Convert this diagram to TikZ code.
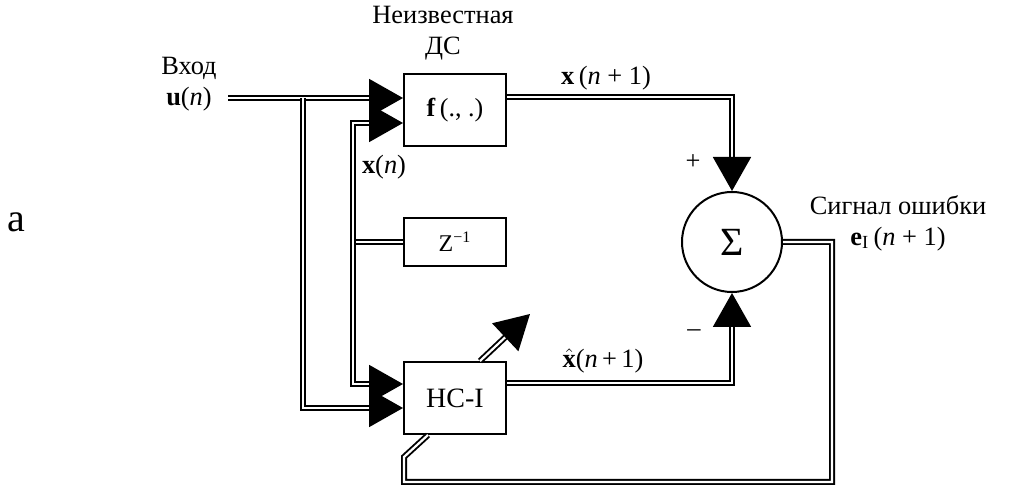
\documentclass[tikz,border=0pt]{standalone}
\usepackage{amsmath}
\usepackage{fontspec}
\setmainfont{Liberation Serif}
\usepackage{tikz}
\usetikzlibrary{arrows.meta,calc}
\tikzset{
  % block with thin frame
  blk/.style={
    rectangle, draw, line width=1pt,
    minimum width=51pt, minimum height=#1,
    inner sep=0pt, align=center
  },
  % double signal line
  dbl/.style={
    double, double distance=1.1pt, line width=0.95pt
  },
  % large filled arrow head
  arr/.style={
    -{Triangle[length=17pt,width=19pt]}
  },
  % text label
  lbl/.style={font=\fontsize{13.2}{15.5}\selectfont, align=center, inner sep=0pt}
}

\begin{document}
\begin{tikzpicture}[x=0.5pt,y=-0.5pt]
  \useasboundingbox (0,0) rectangle (1014,486);

  \node[blk=36pt, font=\fontsize{13}{15}\selectfont] (fbox)  at (455,110) {\textbf{f}\,(., .)};
  \node[blk=24pt, font=\fontsize{12}{14}\selectfont] (zbox)  at (455,242) {Z\textsuperscript{−1}};
  \node[blk=36pt, font=\fontsize{14}{16}\selectfont] (nnbox) at (455,398) {НС-I};
  \node[circle, draw, line width=1pt, minimum size=50pt, inner sep=0pt,
        font=\fontsize{20}{22}\selectfont] (sum) at (732,242) {Σ};

  \coordinate (in)   at (228,98);
  \coordinate (bus)  at (353,242);
  \coordinate (err)  at (832,242);
  \coordinate (ret)  at (404,482);

  % inputs of the unknown system
  \draw[dbl,arr] (in) -- ($(fbox.west)+(0,-12)$);
  \draw[dbl] (zbox.west) -- (bus);
  \draw[dbl,arr] (bus) |- ($(fbox.west)+(0,13)$);
  \draw[dbl,arr] (bus) |- ($(nnbox.west)+(0,-14)$);
  \draw[dbl,arr] (in -| 303,0) |- ($(nnbox.west)+(0,10)$);

  % outputs to the summer
  \draw[dbl,arr] ($(fbox.east)+(0,-13)$) -| (sum.north);
  \draw[dbl,arr] ($(nnbox.east)+(0,-15)$) -| (sum.south);

  % error feedback and weight adjustment
  \draw[dbl] (sum.east) -- (err) |- (ret) -- ++(0,-25) -- ($(nnbox.south)+(-27,0)$);
  \draw[dbl,arr] ($(nnbox.north)+(25,0)$) -- ++(50,-47);

  % labels
  \node[lbl] (lin)   at (189,84)  {Вход\\\textbf{u}(\textit{n})};
  \node[lbl] (lsys)  at (443,33)  {Неизвестная\\ДС};
  \node[lbl] (lxn)   at (384,167) {\textbf{x}(\textit{n})};
  \node[lbl] (lx1)   at (606,78)  {\textbf{x}\,(\textit{n} + 1)};
  \node[lbl] (lxh)   at (603,361) {$\hat{\textbf{x}}$(\textit{n}\,+\,1)};
  \node[lbl] (lplus) at (693,162) {+};
  \node[lbl] (lmin)  at (694,333) {–};
  \node[lbl] (lerr)  at (898,223) {Сигнал ошибки\\\textbf{e}\textsubscript{I}\,(\textit{n} + 1)};
  \node[lbl, font=\fontsize{20}{22}\selectfont] (la) at (16,222) {а};
\end{tikzpicture}
\end{document}
